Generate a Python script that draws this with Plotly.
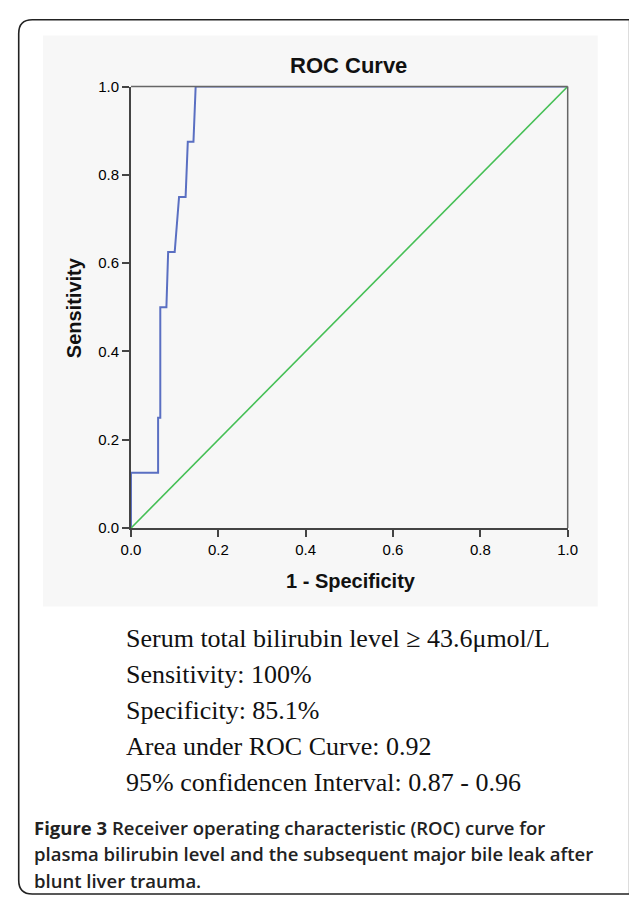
import plotly.graph_objects as go

W, H = 629, 904

# ROC curve data (1 - specificity, sensitivity)
fpr = [0.0, 0.0, 0.062, 0.062, 0.067, 0.067, 0.081, 0.085, 0.100, 0.110, 0.125, 0.130, 0.143, 0.148, 1.0]
tpr = [0.0, 0.125, 0.125, 0.25, 0.25, 0.50, 0.50, 0.625, 0.625, 0.75, 0.75, 0.875, 0.875, 1.0, 1.0]
ref_x = [0.0, 1.0]
ref_y = [0.0, 1.0]
tick_vals = [0.0, 0.2, 0.4, 0.6, 0.8, 1.0]
tick_text = ["0.0", "0.2", "0.4", "0.6", "0.8", "1.0"]

stats_lines = [
    "Serum total bilirubin level \u2265 43.6\u03bcmol/L",
    "Sensitivity: 100%",
    "Specificity: 85.1%",
    "Area under ROC Curve: 0.92",
    "95% confidencen Interval: 0.87 - 0.96",
]
caption_lines = [
    "<b>Figure 3</b> Receiver operating characteristic (ROC) curve for",
    "plasma bilirubin level and the subsequent major bile leak after",
    "blunt liver trauma.",
]

def px(x):
    return x / W

def py(y):
    return 1 - y / H

X0, X1 = 125, 576
Y0, Y1 = 529, 79

fig = go.Figure()
fig.add_trace(go.Scatter(x=fpr, y=tpr, mode="lines",
                         line=dict(color="#5a6fc2", width=2), hoverinfo="skip"))
fig.add_trace(go.Scatter(x=ref_x, y=ref_y, mode="lines",
                         line=dict(color="#45bf55", width=1.6), hoverinfo="skip"))

shapes = []
# outer rounded border
r = 14
x0b, y0b, x1b, y1b = 9, 11, 640, 902
path = (f"M {px(x0b+r)} {py(y0b)} L {px(x1b)} {py(y0b)} "
        f"L {px(x1b)} {py(y1b)} L {px(x0b+r)} {py(y1b)} "
        f"Q {px(x0b)} {py(y1b)} {px(x0b)} {py(y1b-r)} "
        f"L {px(x0b)} {py(y0b+r)} Q {px(x0b)} {py(y0b)} {px(x0b+r)} {py(y0b)} Z")
shapes.append(dict(type="path", xref="paper", yref="paper", path=path,
                   line=dict(color="#222", width=1.6), fillcolor="white", layer="below"))
# chart panel
shapes.append(dict(type="rect", xref="paper", yref="paper",
                   x0=px(34), x1=px(607), y0=py(609), y1=py(27),
                   fillcolor="#f7f7f7", line=dict(width=0), layer="below"))
# top and right frame lines
shapes.append(dict(type="line", xref="x domain", yref="y domain", x0=0, x1=1, y0=1, y1=1,
                   line=dict(color="#666", width=1.5)))
shapes.append(dict(type="line", xref="x domain", yref="y domain", x0=1, x1=1, y0=0, y1=1,
                   line=dict(color="#666", width=1.5)))

annotations = []
annotations.append(dict(text="<b>ROC Curve</b>", xref="paper", yref="paper", x=px(350), y=py(58),
                        xanchor="center", yanchor="middle", showarrow=False,
                        font=dict(family="Liberation Sans", size=22, color="#111")))
annotations.append(dict(text="<b>1 - Specificity</b>", xref="paper", yref="paper", x=px(352), y=py(583),
                        xanchor="center", yanchor="middle", showarrow=False,
                        font=dict(family="Liberation Sans", size=20, color="#111")))
annotations.append(dict(text="<b>Sensitivity</b>", xref="paper", yref="paper", x=px(66), y=py(304),
                        xanchor="center", yanchor="middle", showarrow=False, textangle=-90,
                        font=dict(family="Liberation Sans", size=20, color="#111")))
for i, t in enumerate(stats_lines):
    annotations.append(dict(text=t, xref="paper", yref="paper", x=px(118), y=py(642 + 36.5 * i),
                            xanchor="left", yanchor="middle", showarrow=False,
                            font=dict(family="Liberation Serif", size=26, color="#111")))
for i, t in enumerate(caption_lines):
    annotations.append(dict(text=t, xref="paper", yref="paper", x=px(23), y=py(834 + 27 * i),
                            xanchor="left", yanchor="middle", showarrow=False,
                            font=dict(family="Open Sans", size=18.5, color="#222", weight=600)))

axis_common = dict(range=[0, 1], tickmode="array", tickvals=tick_vals, ticktext=tick_text,
                   showgrid=False, zeroline=False, showline=True, linecolor="#444", linewidth=2,
                   ticks="outside", ticklen=7, tickwidth=2, tickcolor="#444",
                   tickfont=dict(family="Liberation Sans", size=15, color="#000"))

fig.update_layout(
    width=W, height=H, margin=dict(l=0, r=0, t=0, b=0),
    paper_bgcolor="white", plot_bgcolor="#efefef", showlegend=False,
    xaxis=dict(domain=[px(X0), px(X1)], **axis_common),
    yaxis=dict(domain=[py(Y0), py(Y1)], **axis_common),
    shapes=shapes, annotations=annotations,
)

fig.write_html("out.html", config={"displayModeBar": False},
               post_script="document.body.style.margin='0';document.body.style.overflow='hidden';")
